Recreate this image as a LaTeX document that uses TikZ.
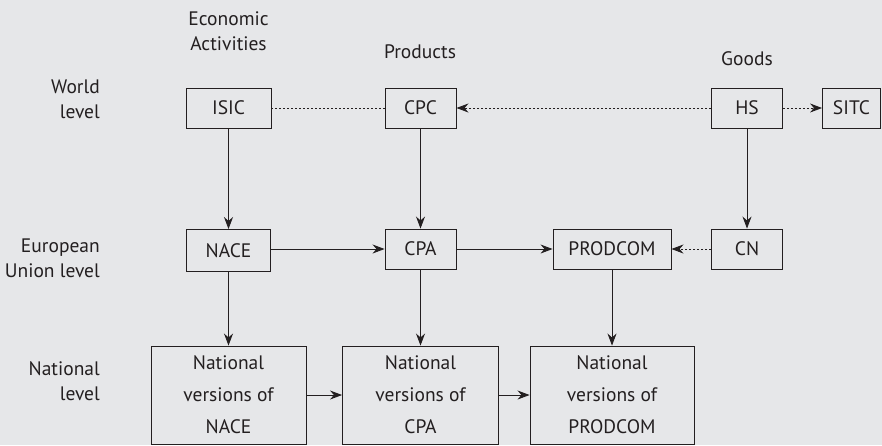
\documentclass[tikz,border=0pt]{standalone}
\usepackage{fontspec}
\setmainfont{PT Sans}
\usetikzlibrary{arrows.meta}
\definecolor{bg}{HTML}{E6E7E9}
\definecolor{ink}{HTML}{231F20}
\begin{document}
\begin{tikzpicture}[x=1pt,y=-1pt,
  font=\fontsize{19.5}{25}\selectfont, text=ink,
  box/.style={draw=ink, line width=0.9pt, inner sep=0pt, align=center},
  lbl/.style={inner sep=0pt, align=center},
  rlbl/.style={inner sep=0pt, align=right, anchor=east},
  conn/.style={draw=ink, line width=0.9pt, -{Stealth[length=12pt,width=9pt]}},
  dotconn/.style={conn, dash pattern=on 2pt off 2pt},
  dotline/.style={draw=ink, line width=0.9pt, dash pattern=on 2pt off 2pt}]
\fill[bg] (0,0) rectangle (882,445);
\useasboundingbox (0,0) rectangle (882,445);
% column headers
\node[lbl] (hea) at (228.5,31) {Economic\\Activities};
\node[lbl] (hpr) at (420,52) {Products};
\node[lbl] (hgo) at (747,59) {Goods};
% row labels
\node[rlbl] (rw) at (100,99) {World\\level};
\node[rlbl] (re) at (100,258) {European\\Union level};
\node[rlbl] (rn) at (100,381) {National\\level};
% world level
\node[box, minimum width=85pt, minimum height=40pt] (isic) at (228.5,108) {ISIC};
\node[box, minimum width=71pt, minimum height=40pt] (cpc) at (420.5,108) {CPC};
\node[box, minimum width=71pt, minimum height=40pt] (hs) at (747,108) {HS};
\node[box, minimum width=58pt, minimum height=40pt] (sitc) at (851.5,108) {SITC};
% EU level
\node[box, minimum width=84pt, minimum height=42pt] (nace) at (228.5,250.5) {NACE};
\node[box, minimum width=71pt, minimum height=40pt] (cpa) at (420.5,249) {CPA};
\node[box, minimum width=118pt, minimum height=40pt] (prodcom) at (612,249) {PRODCOM};
\node[box, minimum width=71pt, minimum height=40pt] (cn) at (747,249) {CN};
% national level
\node[box, minimum width=155pt, minimum height=98pt, font=\fontsize{19.5}{32}\selectfont] (nnace) at (228.5,395) {National\\versions of\\NACE};
\node[box, minimum width=156pt, minimum height=98pt, font=\fontsize{19.5}{32}\selectfont] (ncpa) at (420.5,395) {National\\versions of\\CPA};
\node[box, minimum width=164pt, minimum height=98pt, font=\fontsize{19.5}{32}\selectfont] (nprod) at (612,395) {National\\versions of\\PRODCOM};
% connectors
\draw[dotline] (isic) -- (cpc);
\draw[dotconn] (hs) -- (cpc);
\draw[dotconn] (hs) -- (sitc);
\draw[conn] (isic) -- (nace);
\draw[conn] (cpc) -- (cpa);
\draw[conn] (hs) -- (cn);
\draw[conn] (nace.east |- cpa.west) -- (cpa.west);
\draw[conn] (cpa) -- (prodcom);
\draw[dotconn] (cn) -- (prodcom);
\draw[conn] (nace) -- (nnace);
\draw[conn] (cpa) -- (ncpa);
\draw[conn] (prodcom) -- (nprod);
\draw[conn] (nnace) -- (ncpa);
\draw[conn] (ncpa) -- (nprod);
\end{tikzpicture}
\end{document}
